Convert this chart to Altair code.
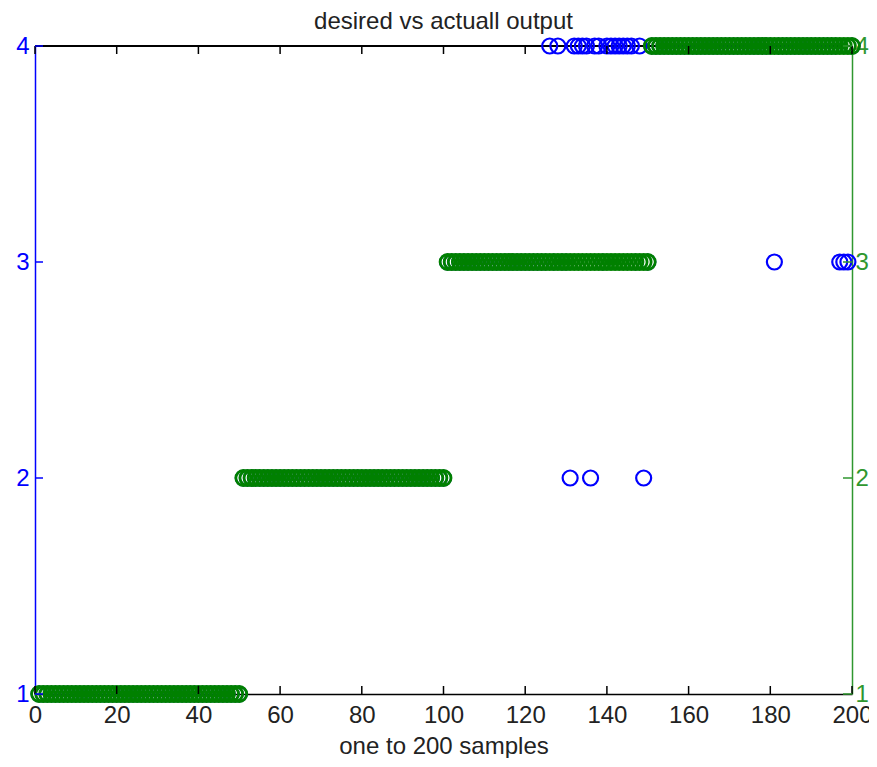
import altair as alt
import pandas as pd

# ---- data ----
samples = list(range(1, 201))
desired = [1] * 50 + [2] * 50 + [3] * 50 + [4] * 50
wrong_samples = [126, 128, 131, 132, 133, 134, 135, 136, 137, 138, 140, 141,
                 142, 143, 144, 145, 146, 148, 149, 181, 197, 198, 199]
wrong_values = [4, 4, 2, 4, 4, 4, 4, 2, 4, 4, 4, 4,
                4, 4, 4, 4, 4, 4, 2, 3, 3, 3, 3]
x_ticks = [0, 20, 40, 60, 80, 100, 120, 140, 160, 180, 200]
y_ticks = [1, 2, 3, 4]

actual = list(desired)
for s, v in zip(wrong_samples, wrong_values):
    actual[s - 1] = v

df = pd.DataFrame({"sample": samples, "desired": desired, "actual": actual})
xt = pd.DataFrame({"sample": x_ticks})
yt = pd.DataFrame({"v": y_ticks})

W, H = 817, 648
FONT = "Liberation Sans"
FS = 24
BLUE = "#0000ff"
GREEN = "#008000"
GREEN_AX = "#2f972f"
TXT = "#222222"

xscale = alt.Scale(domain=[0, 200], nice=False, zero=False)
yscale = alt.Scale(domain=[1, 4], nice=False, zero=False)

xs = alt.X("sample:Q", scale=xscale,
           axis=alt.Axis(values=x_ticks, title="one to 200 samples", ticks=False,
                         grid=False, domainColor="black", domainWidth=1.5,
                         labelColor=TXT, labelFontSize=FS, labelFont=FONT,
                         labelPadding=9, titleFont=FONT, titleFontSize=24,
                         titleFontWeight="normal", titleColor=TXT,
                         titlePadding=7, labelFlush=False, format="d"))

blue = alt.Chart(df).mark_point(shape="circle", filled=False, size=225,
                                strokeWidth=2.2, color=BLUE, opacity=1).encode(
    x=xs,
    y=alt.Y("actual:Q", scale=yscale,
            axis=alt.Axis(orient="left", values=y_ticks, title=None, ticks=False,
                          grid=False, domainColor=BLUE, domainWidth=1.5,
                          labelColor=BLUE, labelFontSize=FS, labelFont=FONT,
                          labelPadding=6, format="d")),
)

green = alt.Chart(df).mark_point(shape="circle", filled=False, size=225,
                                 strokeWidth=2.8, color=GREEN, opacity=1).encode(
    x=xs,
    y=alt.Y("desired:Q", scale=yscale,
            axis=alt.Axis(orient="right", values=y_ticks, title=None, ticks=False,
                          grid=False, domainColor=GREEN_AX, domainWidth=1.5,
                          labelColor=GREEN_AX, labelFontSize=FS, labelFont=FONT,
                          labelPadding=3, format="d")),
)

# top border of the box (MATLAB draws a full box)
top_border = alt.Chart(xt).mark_rule(color="black", strokeWidth=1.5).encode(
    x=alt.value(0), x2=alt.value(W), y=alt.value(0))
bottom_ticks = alt.Chart(xt).mark_rule(color="black", strokeWidth=1.5).encode(
    x=xs, y=alt.value(H), y2=alt.value(H - 8))
top_ticks = alt.Chart(xt).mark_rule(color="black", strokeWidth=1.5).encode(
    x=xs, y=alt.value(0), y2=alt.value(8))
left_ticks = alt.Chart(yt).mark_rule(color=BLUE, strokeWidth=1.5).encode(
    y=alt.Y("v:Q", scale=yscale, axis=None), x=alt.value(0), x2=alt.value(8))
right_ticks = alt.Chart(yt).mark_rule(color=GREEN_AX, strokeWidth=1.5).encode(
    y=alt.Y("v:Q", scale=yscale, axis=None), x=alt.value(W), x2=alt.value(W - 9))

chart = alt.layer(top_border, blue, green, bottom_ticks, top_ticks, left_ticks,
                  right_ticks).resolve_scale(
    y="independent"
).properties(
    width=W, height=H,
    title=alt.TitleParams("desired vs actuall output", font=FONT, fontSize=24,
                          fontWeight="normal", color=TXT, offset=-1, anchor="middle"),
    autosize=alt.AutoSizeParams(type="none"),
    padding={"left": 27, "top": 38, "right": 17, "bottom": 64},
).configure_view(strokeWidth=0)

chart.save("out.html", embed_options={"renderer": "svg", "actions": False})
